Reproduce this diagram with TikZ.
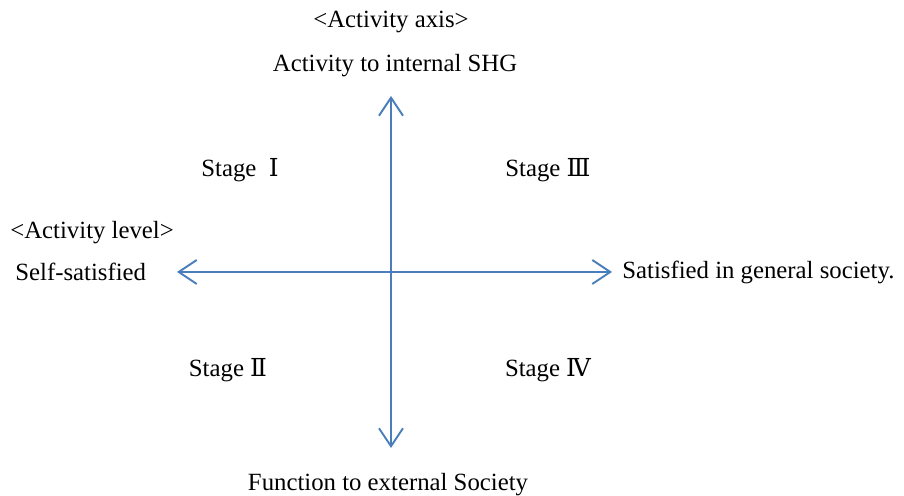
\documentclass[tikz,border=0pt]{standalone}
\usepackage{fontspec}
\setmainfont{Liberation Serif}
\newfontfamily\numfont{DejaVu Serif}
\usetikzlibrary{arrows.meta}
\definecolor{axisblue}{RGB}{74,126,187}
\newcommand{\rnum}[1]{{\numfont #1}}
\begin{document}
\begin{tikzpicture}[x=0.02cm, y=-0.02cm,
    axis/.style={draw=axisblue, line width=1.1pt,
      {Straight Barb[length=3.6mm, width=4.8mm]}-{Straight Barb[length=3.6mm, width=4.8mm]}},
    lbl/.style={font=\fontsize{14.1}{17}\selectfont, inner sep=0pt}]

    \useasboundingbox (0,0) rectangle (904,496);

    % Axis end points
    \coordinate (top) at (391,96);
    \coordinate (bottom) at (391,448);
    \coordinate (left) at (177,272);
    \coordinate (right) at (612,272);

    % Vertical axis
    \draw[axis] (bottom) -- (top);

    % Horizontal axis
    \draw[axis] (left) -- (right);

    % Axis titles
    \node[lbl] (axistitle) at (391,22) {<Activity axis>};
    \node[lbl] (internal) at (395,66) {Activity to internal SHG};
    \node[lbl] (external) at (388,485) {Function to external Society};
    \node[lbl, anchor=west] (leveltitle) at (10,233) {<Activity level>};
    \node[lbl, anchor=west] (selfsat) at (15,272) {Self-satisfied};
    \node[lbl, anchor=west] (general) at (622,272) {Satisfied in general society.};

    % Stages
    \node[lbl] (stage1) at (240,170) {Stage~~\rnum{Ⅰ}};
    \node[lbl] (stage3) at (548,170) {Stage \rnum{Ⅲ}};
    \node[lbl] (stage2) at (228,370) {Stage \rnum{Ⅱ}};
    \node[lbl] (stage4) at (548,370) {Stage \rnum{Ⅳ}};

\end{tikzpicture}
\end{document}
